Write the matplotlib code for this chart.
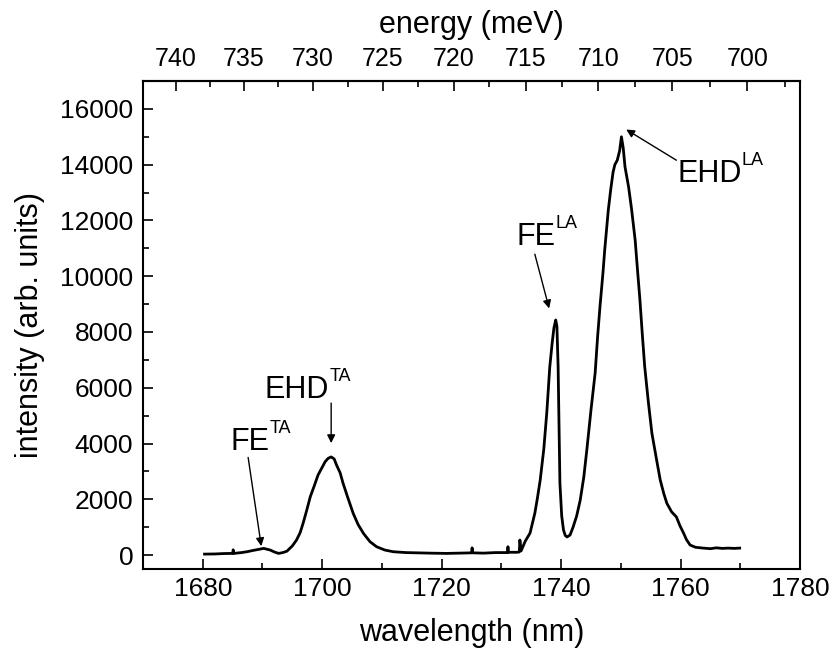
import matplotlib
matplotlib.use("Agg")
import matplotlib.pyplot as plt
from matplotlib.ticker import MultipleLocator
import numpy as np

plt.rcParams['font.family'] = ['Liberation Sans', 'DejaVu Sans']

# spectrum
wavelength = [1680.3, 1682.0, 1683.5, 1685.0, 1685.1, 1685.2, 1686.5, 1687.4, 1688.5, 1689.5,
              1690.2, 1691.3, 1692.0, 1692.7, 1693.4, 1694.1, 1695.0, 1695.7, 1696.3, 1696.8,
              1697.4, 1698.0, 1698.7, 1699.3, 1700.0, 1700.5, 1701.0, 1701.5, 1702.0, 1702.4,
              1703.0, 1703.5, 1704.3, 1705.2, 1706.0, 1706.9, 1708.0, 1709.1, 1710.5, 1711.9,
              1714.0, 1716.0, 1718.0, 1720.8, 1723.0, 1725.0, 1725.1, 1725.2, 1727.0, 1729.0,
              1731.0, 1731.1, 1731.2, 1732.5, 1733.0, 1733.1, 1733.3, 1734.0, 1734.8, 1735.6,
              1736.0, 1736.5, 1737.1, 1737.6, 1738.1, 1738.5, 1738.8, 1739.1, 1739.3, 1739.5,
              1739.8, 1740.1, 1740.4, 1740.7, 1741.0, 1741.5, 1742.0, 1742.6, 1743.2, 1743.8,
              1744.3, 1745.0, 1745.7, 1746.1, 1746.5, 1747.0, 1747.3, 1747.9, 1748.3, 1748.7,
              1749.0, 1749.4, 1749.8, 1750.1, 1750.4, 1750.7, 1751.3, 1751.8, 1752.4, 1752.8,
              1753.2, 1753.6, 1754.0, 1754.6, 1755.2, 1756.0, 1756.6, 1757.2, 1757.7, 1758.5,
              1759.3, 1759.9, 1760.5, 1761.0, 1761.6, 1762.5, 1763.8, 1765.0, 1766.0, 1767.0,
              1768.0, 1769.0, 1769.9]
intensity = [35, 40, 55, 60, 190, 60, 90, 120, 170, 210,
             240, 180, 110, 60, 90, 140, 330, 540, 800, 1140,
             1600, 2090, 2500, 2870, 3150, 3350, 3470, 3520, 3450, 3230,
             2950, 2570, 2050, 1490, 1100, 780, 480, 300, 180, 120,
             90, 80, 70, 60, 70, 80, 260, 80, 70, 90,
             90, 300, 100, 100, 110, 540, 150, 500, 790, 1500,
             2000, 2690, 3800, 5100, 6740, 7600, 8150, 8430, 8200, 6740,
             2580, 1400, 900, 700, 650, 720, 1000, 1400, 1970, 2800,
             3760, 5200, 6530, 7800, 8890, 10100, 10940, 12370, 13100, 13730,
             14000, 14160, 14500, 15000, 14600, 13920, 13200, 12400, 11290, 10200,
             9140, 7900, 6750, 5500, 4370, 3400, 2690, 2200, 1860, 1550,
             1370, 1050, 790, 550, 360, 280, 250, 230, 260, 240,
             250, 240, 250]

# annotations: base label, superscript, arrow head, arrow tail, text anchor (nm, counts)
labels = ['FE', 'EHD', 'FE', 'EHD']
sups = ['TA', 'TA', 'LA', 'LA']
heads = [(1689.8, 320), (1701.5, 4015), (1738.0, 8845), (1750.9, 15260)]
tails = [(1687.6, 3500), (1701.5, 5450), (1735.6, 10790), (1759.3, 14160)]
text_pos = [(1684.6, 3765), (1690.4, 5630), (1732.45, 11115), (1759.45, 13385)]


def energy(x):
    x = np.asarray(x, dtype=float)
    with np.errstate(divide='ignore'):
        return 1239841.98 / x


fig = plt.figure(figsize=(8.33, 6.57), dpi=100)
ax = fig.add_axes([0.1717, 0.1339, 0.7887, 0.7428])

ax.plot(wavelength, intensity, color='black', lw=2.0)

for lab, sup, h, t, p in zip(labels, sups, heads, tails, text_pos):
    ax.annotate('', xy=h, xytext=t,
                arrowprops=dict(arrowstyle='-|>', color='black', lw=1.0,
                                mutation_scale=12, shrinkA=0, shrinkB=0))
    base = ax.text(p[0], p[1], lab, fontsize=22, ha='left', va='baseline')
    ax.annotate(sup, xy=(1.0, 1.0), xycoords=base, xytext=(0, 5),
                textcoords='offset points', ha='left', va='top', fontsize=13)

ax.set_xlim(1670, 1780)
ax.set_ylim(-500, 17000)
ax.xaxis.set_major_locator(MultipleLocator(20))
ax.xaxis.set_minor_locator(MultipleLocator(10))
ax.yaxis.set_major_locator(MultipleLocator(2000))
ax.yaxis.set_minor_locator(MultipleLocator(1000))
ax.tick_params(which='both', direction='in', width=1.2, labelsize=19)
ax.tick_params(which='major', length=7)
ax.tick_params(which='minor', length=4)
ax.tick_params(axis='x', pad=6)
ax.tick_params(axis='y', pad=7)
for s in ax.spines.values():
    s.set_linewidth(1.5)

ax.set_xlabel('wavelength (nm)', fontsize=22, labelpad=12)
ax.set_ylabel('intensity (arb. units)', fontsize=22, labelpad=11)

top = ax.secondary_xaxis('top', functions=(energy, energy))
top.set_xticks(np.arange(700, 741, 5))
top.xaxis.set_minor_locator(MultipleLocator(2.5))
top.tick_params(which='both', direction='in', width=1.2, labelsize=18, pad=7)
top.tick_params(which='major', length=7)
top.tick_params(which='minor', length=4)
top.spines['top'].set_linewidth(1.5)
top.set_xlabel('energy (meV)', fontsize=22, labelpad=10)

fig.savefig('out.png', dpi=100)
